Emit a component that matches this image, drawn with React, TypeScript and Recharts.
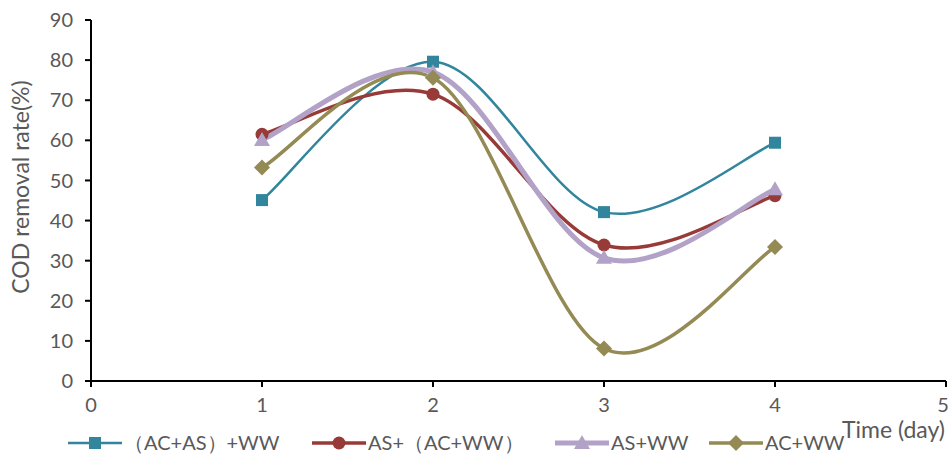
import React from 'react';
import { LineChart, Line, XAxis, YAxis } from 'recharts';

const days = [1, 2, 3, 4];
const acAsWw = [45.1, 79.6, 42.1, 59.4];
const asAcWw = [61.5, 71.5, 33.9, 46.2];
const asWw = [60.1, 77.0, 30.7, 47.8];
const acWw = [53.2, 75.6, 8.1, 33.4];
const xTicks = [0, 1, 2, 3, 4, 5];
const yTicks = [0, 10, 20, 30, 40, 50, 60, 70, 80, 90];

const seriesNames = ['（AC+AS）+WW', 'AS+（AC+WW）', 'AS+WW', 'AC+WW'];

const data = days.map((d, i) => ({
  day: d,
  acAsWw: acAsWw[i],
  asAcWw: asAcWw[i],
  asWw: asWw[i],
  acWw: acWw[i],
}));

const FONT = 'Lato, "Noto Sans", sans-serif';
const GREY = '#595959';

// Excel-style smoothing (Catmull-Rom through the points)
const excelCurve = (context: any) => {
  let pts: number[][] = [];
  return {
    areaStart() {},
    areaEnd() {},
    lineStart() {
      pts = [];
    },
    point(x: number, y: number) {
      pts.push([+x, +y]);
    },
    lineEnd() {
      if (!pts.length) return;
      context.moveTo(pts[0][0], pts[0][1]);
      for (let i = 0; i < pts.length - 1; i++) {
        const p0 = pts[i - 1] || pts[i];
        const p1 = pts[i];
        const p2 = pts[i + 1];
        const p3 = pts[i + 2] || p2;
        context.bezierCurveTo(
          p1[0] + (p2[0] - p0[0]) / 6,
          p1[1] + (p2[1] - p0[1]) / 6,
          p2[0] - (p3[0] - p1[0]) / 6,
          p2[1] - (p3[1] - p1[1]) / 6,
          p2[0],
          p2[1]
        );
      }
    },
  };
};

type Shape = 'square' | 'circle' | 'triangle' | 'diamond';

const Marker = ({ cx, cy, shape, color }: { cx: number; cy: number; shape: Shape; color: string }) => {
  if (shape === 'square') return <rect x={cx - 6} y={cy - 6} width={12} height={12} fill={color} />;
  if (shape === 'circle') return <circle cx={cx} cy={cy} r={6.5} fill={color} />;
  if (shape === 'triangle')
    return <polygon points={`${cx},${cy - 8} ${cx + 8},${cy + 6} ${cx - 8},${cy + 6}`} fill={color} />;
  return <polygon points={`${cx},${cy - 8} ${cx + 8},${cy} ${cx},${cy + 8} ${cx - 8},${cy}`} fill={color} />;
};

const series = [
  { key: 'acAsWw', color: '#31859C', width: 2.5, shape: 'square' as Shape },
  { key: 'asAcWw', color: '#983A37', width: 3.5, shape: 'circle' as Shape },
  { key: 'asWw', color: '#B3A2C7', width: 5, shape: 'triangle' as Shape },
  { key: 'acWw', color: '#948A54', width: 3.5, shape: 'diamond' as Shape },
];

const legendX = [68, 312, 555, 709];

const App = () => {
  return (
    <div style={{ position: 'absolute', left: 0, top: 0, width: 948, height: 458, background: '#fff' }}>
      <LineChart width={948} height={458} data={data} margin={{ top: 20, right: 2, bottom: 47, left: 0 }}>
        <XAxis
          dataKey="day"
          type="number"
          domain={[0, 5]}
          ticks={xTicks}
          allowDataOverflow
          height={30}
          stroke="#000"
          strokeWidth={2}
          tickSize={6}
          tickMargin={11}
          tick={{ fill: GREY, fontSize: 20, fontFamily: FONT }}
          label={{
            content: () => (
              <text x={945} y={438} fill={GREY} fontSize={23} fontFamily={FONT} textAnchor="end">
                Time (day)
              </text>
            ),
          }}
        />
        <YAxis
          domain={[0, 90]}
          ticks={yTicks}
          width={91}
          stroke="#000"
          strokeWidth={2}
          tickSize={6}
          tickMargin={12}
          tick={{ fill: GREY, fontSize: 20, fontFamily: FONT }}
          label={{
            content: () => (
              <text
                x={29}
                y={187}
                fill={GREY}
                fontSize={23}
                fontFamily={FONT}
                textAnchor="middle"
                transform="rotate(-90 29 187)"
              >
                COD removal rate(%)
              </text>
            ),
          }}
        />
        {series.map((s) => (
          <Line
            key={s.key}
            dataKey={s.key}
            type={excelCurve as any}
            stroke={s.color}
            strokeWidth={s.width}
            isAnimationActive={false}
            dot={(p: any) => <Marker key={`${s.key}-${p.index}`} cx={p.cx} cy={p.cy} shape={s.shape} color={s.color} />}
            activeDot={false}
          />
        ))}
      </LineChart>
      <svg style={{ position: 'absolute', left: 0, top: 425 }} width={948} height={33}>
        {series.map((s, i) => (
          <g key={s.key}>
            <line x1={legendX[i]} x2={legendX[i] + 54} y1={18} y2={18} stroke={s.color} strokeWidth={s.width} />
            <Marker cx={legendX[i] + 27} cy={18} shape={s.shape} color={s.color} />
            <text x={legendX[i] + 56} y={25} fill={GREY} fontSize={20} fontFamily={FONT}>
              {seriesNames[i]}
            </text>
          </g>
        ))}
      </svg>
    </div>
  );
};

export default App;
